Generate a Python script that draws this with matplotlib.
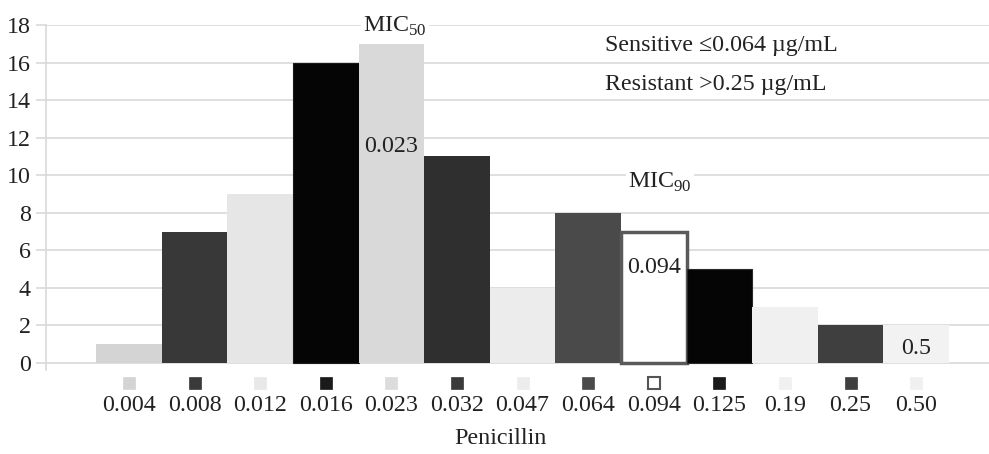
import matplotlib
matplotlib.use("Agg")
import matplotlib.pyplot as plt
import matplotlib.transforms as mtransforms
import numpy as np

plt.rcParams['font.family'] = ['Liberation Serif', 'DejaVu Serif']
plt.rcParams['mathtext.fontset'] = 'custom'
plt.rcParams['mathtext.rm'] = 'Liberation Serif'

# MIC categories (ug/mL) and isolate counts
mic_labels = ['0.004', '0.008', '0.012', '0.016', '0.023', '0.032', '0.047',
              '0.064', '0.094', '0.125', '0.19', '0.25', '0.50']
counts = [1, 7, 9, 16, 17, 11, 4, 8, 7, 5, 3, 2, 2]
bar_colors = ['#d4d4d4', '#383838', '#e6e6e6', '#050505', '#d9d9d9', '#2f2f2f',
              '#ececec', '#4a4a4a', '#ffffff', '#050505', '#f0f0f0', '#3f3f3f', '#f2f2f2']
edge_colors = ['none'] * 13
edge_colors[8] = '#5a5a5a'
edge_colors[9] = '#2a2a2a'
edge_colors[3] = '#1a1a1a'
marker_colors = ['#d4d4d4', '#3a3a3a', '#e8e8e8', '#1a1a1a', '#dcdcdc', '#3a3a3a',
                 '#ececec', '#4a4a4a', '#ffffff', '#1a1a1a', '#f0f0f0', '#3f3f3f', '#f0f0f0']

FS = 17.3
TXT = '#222222'

fig = plt.figure(figsize=(9.89, 4.54), dpi=100)
ax = fig.add_axes([46 / 989, 1 - 370 / 454, 1 - 46 / 989, (370 - 25) / 454])

x = np.arange(len(counts))
grid_c = '#d9d9d9'
for i in range(len(counts)):
    lw = 2.5 if i == 8 else (0.8 if edge_colors[i] != 'none' else 0)
    ax.bar(x[i], counts[i], width=1.0, color=bar_colors[i],
           edgecolor=edge_colors[i], linewidth=lw, zorder=3)

ax.set_ylim(-0.37, 18)
ax.set_xlim(-1.265, 13.11)
ax.set_yticks(np.arange(0, 19, 2))
ax.yaxis.grid(True, color=grid_c, linewidth=1.2, zorder=0)
ax.set_axisbelow(True)
for s in ['top', 'right', 'bottom']:
    ax.spines[s].set_visible(False)
ax.spines['left'].set_color(grid_c)
ax.spines['left'].set_linewidth(1.2)
ax.tick_params(axis='y', direction='out', length=7, color=grid_c, width=1.2,
               labelsize=FS, labelcolor=TXT, pad=4)

ax.set_xticks(x)
ax.set_xticklabels(mic_labels)
ax.tick_params(axis='x', length=0, labelsize=FS, labelcolor=TXT, pad=18)

# legend-style squares under each category
trans = mtransforms.blended_transform_factory(ax.transData, fig.transFigure)
for i in range(len(counts)):
    ec = '#555555' if i == 8 else marker_colors[i]
    ax.plot(x[i], 1 - 383 / 454, marker='s', markersize=8.5, color=marker_colors[i],
            markeredgecolor=ec, markeredgewidth=1.5 if i == 8 else 0.5,
            transform=trans, clip_on=False)

fig.text(0.506, 1 - 438 / 454, 'Penicillin', ha='center', va='center',
         fontsize=FS, color=TXT)

wbox = dict(facecolor='white', edgecolor='none', pad=1.5)
ax.text(4.06, 17.95, 'MIC$_{\\mathrm{50}}$', ha='center', va='center', fontsize=FS,
        color=TXT, bbox=wbox, zorder=5)
ax.text(4, 11.55, '0.023', ha='center', va='center', fontsize=FS, color=TXT, zorder=5)
ax.text(8.1, 9.6, 'MIC$_{\\mathrm{90}}$', ha='center', va='center', fontsize=FS,
        color=TXT, bbox=wbox, zorder=5)
ax.text(8, 5.1, '0.094', ha='center', va='center', fontsize=FS, color=TXT, zorder=5)
ax.text(12, 0.8, '0.5', ha='center', va='center', fontsize=FS, color=TXT, zorder=5)

ax.text(7.25, 16.9, 'Sensitive \u22640.064 \u00b5g/mL', ha='left', va='center',
        fontsize=FS, color=TXT)
ax.text(7.25, 14.85, 'Resistant >0.25 \u00b5g/mL', ha='left', va='center',
        fontsize=FS, color=TXT)

fig.savefig('out.png', dpi=100)
